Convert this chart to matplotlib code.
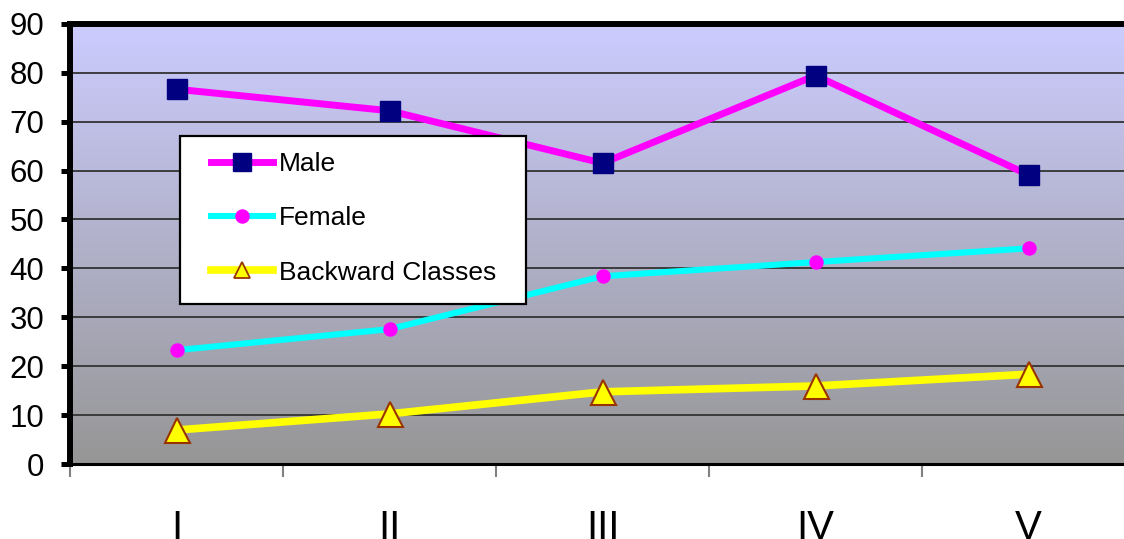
import numpy as np
import matplotlib
matplotlib.use("Agg")
import matplotlib.pyplot as plt
from matplotlib.patches import Rectangle

plt.rcParams['font.family'] = ['Liberation Sans', 'DejaVu Sans']

# Data
categories = ["I", "II", "III", "IV", "V"]
male = [76.6, 72.2, 61.5, 79.4, 59.1]
female = [23.3, 27.6, 38.4, 41.3, 44.1]
backward = [7.0, 10.3, 14.8, 16.0, 18.4]
series_names = ["Male", "Female", "Backward Classes"]
y_ticks = [0, 10, 20, 30, 40, 50, 60, 70, 80, 90]

W, H = 1124, 539
fig = plt.figure(figsize=(W / 100, H / 100), dpi=100)


def fx(px):
    return px / W


def fy(py):
    return 1 - py / H


ax = fig.add_axes([fx(70), fy(464.3), (1135 - 70) / W, (464.3 - 23.6) / H])
ax.set_xlim(0, len(categories))
ax.set_ylim(y_ticks[0], y_ticks[-1])

# vertical gradient background: lavender at the top fading to gray
top = np.array([204, 204, 255]) / 255
bottom = np.array([150, 150, 150]) / 255
t = np.linspace(0, 1, 256)[:, None]
grad = (top[None, :] * (1 - t) + bottom[None, :] * t)[:, None, :]
ax.imshow(grad, extent=[0, len(categories), y_ticks[0], y_ticks[-1]],
          aspect='auto', zorder=0, interpolation='bilinear')

# horizontal gridlines
for yv in y_ticks[1:-1]:
    ax.axhline(yv, color='#333333', lw=1.3, zorder=1)

xs = np.arange(len(categories)) + 0.5

l1, = ax.plot(xs, male, color='#FF00FF', lw=5, marker='s', markersize=15,
              markerfacecolor='#000080', markeredgecolor='#000080', zorder=3,
              label=series_names[0])
l2, = ax.plot(xs, female, color='#00FFFF', lw=4.4, marker='o', markersize=9.4,
              markerfacecolor='#FF00FF', markeredgecolor='#FF00FF', zorder=3,
              label=series_names[1])
l3, = ax.plot(xs, backward, color='#FFFF00', lw=5.5, marker='^', markersize=18,
              markerfacecolor='#FFFF00', markeredgecolor='#993300',
              markeredgewidth=1.5, zorder=3, label=series_names[2])

# axes styling
for side in ('left', 'top'):
    ax.spines[side].set_linewidth(4.3)
    ax.spines[side].set_color('black')
ax.spines['bottom'].set_linewidth(2.2)
ax.spines['bottom'].set_color('black')
ax.spines['right'].set_visible(False)

ax.set_yticks(y_ticks)
ax.set_yticklabels([str(v) for v in y_ticks])
ax.tick_params(axis='y', length=6.5, width=3.6, color='black',
               labelsize=22.5, pad=12)

ax.set_xticks(range(len(categories) + 1))
ax.set_xticklabels([])
ax.tick_params(axis='x', which='major', length=9.4, width=1.5, color='#808080')
ax.set_xticks(xs, minor=True)
ax.set_xticklabels(categories, minor=True)
ax.tick_params(axis='x', which='minor', length=0, labelsize=29, pad=32)

# legend box
frame = Rectangle((fx(180), fy(304)), (526 - 180) / W, (304 - 136) / H,
                  transform=fig.transFigure, facecolor='white',
                  edgecolor='black', lw=1.6, zorder=4, clip_on=False)
ax.add_patch(frame)
leg = ax.legend(handles=[l1, l2, l3], loc='upper left',
                bbox_to_anchor=(fx(211), fy(152)), bbox_transform=fig.transFigure,
                frameon=False, borderpad=0, borderaxespad=0,
                handlelength=2.35, handletextpad=0.23, labelspacing=1.15,
                fontsize=19)
leg.set_zorder(5)
for handle, ms, mew in zip(leg.legend_handles, [13.5, 9.4, 12], [1, 1, 1.3]):
    handle.set_markersize(ms)
    handle.set_markeredgewidth(mew)

fig.savefig("out.png", dpi=100)
